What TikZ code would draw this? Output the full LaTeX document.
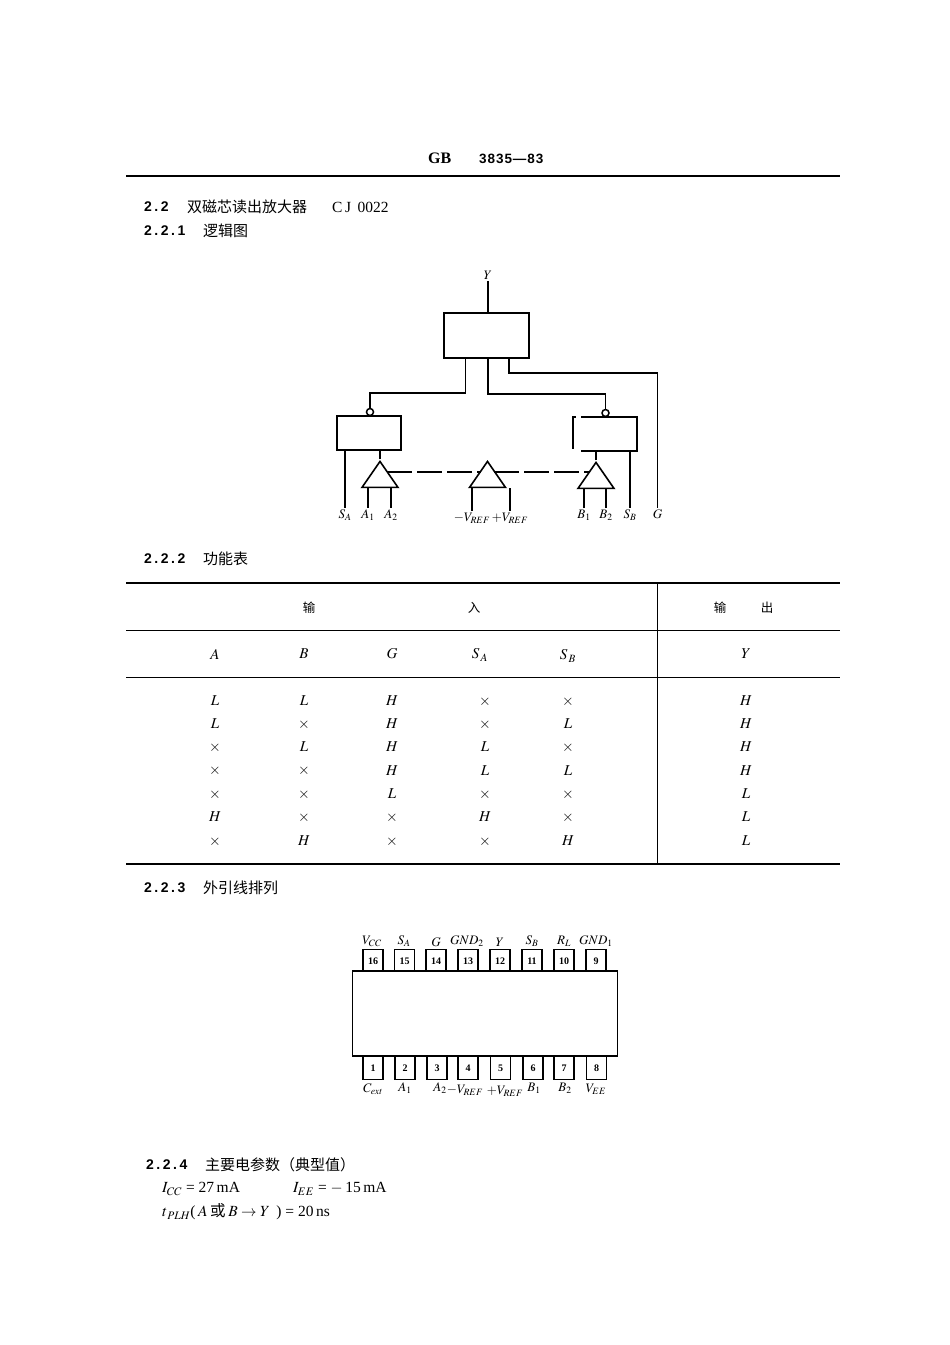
\documentclass[tikz,border=0pt]{standalone}
\usepackage{mathptmx}
\usepackage[no-math]{fontspec}
\setmainfont{Liberation Serif}
\newfontfamily\cjk{Noto Sans CJK SC}
\newfontfamily\secnum[LetterSpace=18]{Liberation Sans}
\newfontfamily\titlenum[LetterSpace=7]{Liberation Sans}
\usetikzlibrary{shapes.geometric}

\begin{document}
\begin{tikzpicture}[x=1pt, y=-1pt]
	\tikzstyle{every node} = [inner sep=0pt]
	\tikzstyle{box} = [draw, line width=1.9pt, minimum width=85pt, minimum height=45pt]
	\tikzstyle{subbox} = [draw, line width=1.6pt, minimum width=64pt, minimum height=34pt]
	\tikzstyle{bubble} = [draw, circle, line width=1.5pt, minimum size=7pt]
	\tikzstyle{tri} = [draw, isosceles triangle, isosceles triangle stretches, shape border rotate=90, line width=1.6pt, minimum width=36pt, minimum height=26pt]
	\tikzstyle{wire} = [line width=1.2pt]
	\tikzstyle{rule} = [line width=1.6pt]
	\tikzstyle{thin} = [line width=0.8pt]
	\tikzstyle{lbl} = [font=\fontsize{13}{13}\selectfont, inner sep=1.5pt]
	\tikzstyle{head} = [anchor=west, font=\fontsize{15}{15}\selectfont\cjk]
	\tikzstyle{num} = [anchor=west, font=\fontsize{14}{14}\selectfont\secnum\bfseries]
	\tikzstyle{cell} = [font=\fontsize{15}{15}\selectfont]
	\tikzstyle{zh} = [font=\fontsize{12.5}{12.5}\selectfont\cjk]
	\tikzstyle{pin} = [draw, line width=1.5pt, minimum width=20pt, minimum height=23pt, font=\fontsize{10}{10}\selectfont\bfseries]
	\tikzstyle{body} = [draw, fill=white, line width=1.6pt, minimum width=265pt, minimum height=85pt]
	\tikzstyle{txt} = [anchor=west, font=\fontsize{15.5}{15.5}\selectfont]
	\useasboundingbox (0,0) rectangle (950,1345);
	\fill [white] (0,0) rectangle (950,1345);

	% page head
	\node [anchor=west, font=\fontsize{16}{16}\selectfont\bfseries] (Title) at (428, 158) {GB};
	\node [anchor=west, font=\fontsize{13.5}{13.5}\selectfont\titlenum\bfseries] (TitleNo) at (479, 159) {3835—83};
	\coordinate (HeadL) at (126, 176);
	\coordinate (HeadR) at (840, 176);
	\draw [rule] (HeadL)--(HeadR);
	\node [num] (Sec22) at (144, 207) {2.2};
	\node [head] (Sec22Text) at (187, 207) {双磁芯读出放大器};
	\node [txt] (Sec22Code) at (332, 207) {C\,J\ \,0022};
	\node [num] (Sec221) at (144, 231) {2.2.1};
	\node [head] (Sec221Text) at (203, 231) {逻辑图};

	% logic diagram
	\node [box] (BoxTop) at (486.5, 335.5) {};
	\node [subbox] (BoxA) at (369, 433) {};
	\node [subbox] (BoxB) at (605, 434) {};
	\coordinate (GapA) at (576, 417);
	\coordinate (GapB) at (581, 417);
	\coordinate (GapC) at (571.5, 450.5);
	\coordinate (GapD) at (581, 450.5);
	\draw [white, line width=2.6pt] (GapA)--(GapB);
	\draw [white, line width=3.2pt] (GapC)--(GapD);
	\node [bubble] (BubA) at (370, 412) {};
	\node [bubble] (BubB) at (605.5, 413) {};
	\node [tri] (TriA) at (380, 478) {};
	\node [tri] (TriRef) at (487.5, 478) {};
	\node [tri] (TriB) at (596, 479) {};
	\node [lbl] (LblY) at (488, 275) {$Y$};
	\node [lbl] (LblSA) at (345, 515) {$S_A$};
	\node [lbl] (LblA1) at (368, 515) {$A_1$};
	\node [lbl] (LblA2) at (391, 515) {$A_2$};
	\node [lbl] (LblVm) at (472, 518) {$-V_{REF}$};
	\node [lbl] (LblVp) at (510, 518) {$+V_{REF}$};
	\node [lbl] (LblB1) at (584, 515) {$B_1$};
	\node [lbl] (LblB2) at (606, 515) {$B_2$};
	\node [lbl] (LblSB) at (630, 515) {$S_B$};
	\node [lbl] (LblG) at (657.5, 514) {$G$};
	\coordinate (TopL) at (465.5, 358);
	\coordinate (TopM) at (488, 358);
	\coordinate (TopR) at (509, 358);
	\coordinate (DashA) at (387, 472);
	\coordinate (DashB) at (481, 472);
	\coordinate (DashC) at (494, 472);
	\coordinate (DashD) at (589, 472);
	\draw [wire] (LblY)--(LblY |- BoxTop.north);
	\draw [wire] (TopL)--++(0,35)-|(BubA.north);
	\draw [wire] (TopM)--++(0,36)-|(BubB.north);
	\draw [wire] (TopR)--++(0,15)-|(LblG.north);
	\draw [wire] (LblSA)--(LblSA |- BoxA.south);
	\draw [wire] (LblSB)--(LblSB |- BoxB.south);
	\draw [wire] (TriA.apex)--(TriA.apex |- BoxA.south);
	\draw [wire] (TriB.apex)--(TriB.apex |- BoxB.south);
	\draw [wire] (LblA1)--(LblA1 |- TriA.left corner);
	\draw [wire] (LblA2)--(LblA2 |- TriA.left corner);
	\draw [wire] (LblVm)--(LblVm |- TriRef.left corner);
	\draw [wire] (LblVp)--(LblVp |- TriRef.left corner);
	\draw [wire] (LblB1)--(LblB1 |- TriB.left corner);
	\draw [wire] (LblB2)--(LblB2 |- TriB.left corner);
	\draw [line width=1.4pt, dash pattern=on 25pt off 5pt] (DashA)--(DashB);
	\draw [line width=1.4pt, dash pattern=on 25pt off 5pt] (DashC)--(DashD);

	% function table
	\node [num] (Sec222) at (144, 559) {2.2.2};
	\node [head] (Sec222Text) at (203, 559) {功能表};
	\coordinate (TabTL) at (126, 583);
	\coordinate (TabTR) at (840, 583);
	\coordinate (TabML) at (126, 630);
	\coordinate (TabMR) at (840, 630);
	\coordinate (TabNL) at (126, 677);
	\coordinate (TabNR) at (840, 677);
	\coordinate (TabBL) at (126, 864);
	\coordinate (TabBR) at (840, 864);
	\coordinate (TabVT) at (657, 583);
	\coordinate (TabVB) at (657, 864);
	\draw [rule] (TabTL)--(TabTR);
	\draw [thin] (TabML)--(TabMR);
	\draw [thin] (TabNL)--(TabNR);
	\draw [rule] (TabBL)--(TabBR);
	\draw [thin] (TabVT)--(TabVB);
	\node [zh] (InA) at (309, 608) {输};
	\node [zh] (InB) at (474, 608) {入};
	\node [zh] (OutA) at (720, 608) {输};
	\node [zh] (OutB) at (767, 608) {出};
	\node [cell] (ColA) at (215, 654) {$A$};
	\node [cell] (ColB) at (304, 654) {$B$};
	\node [cell] (ColG) at (392, 654) {$G$};
	\node [cell] (ColSA) at (480, 655) {$S_{\,A}$};
	\node [cell] (ColSB) at (568, 656) {$S_{\,B}$};
	\node [cell] (ColY) at (746, 654) {$Y$};
	\node [cell] (A1) at (215, 701) {$L$};
	\node [cell] (B1) at (304, 701) {$L$};
	\node [cell] (G1) at (392, 701) {$H$};
	\node [cell] (SA1) at (485, 702) {$\times$};
	\node [cell] (SB1) at (568, 702) {$\times$};
	\node [cell] (Y1) at (746, 701) {$H$};
	\node [cell] (A2) at (215, 724) {$L$};
	\node [cell] (B2) at (304, 725) {$\times$};
	\node [cell] (G2) at (392, 724) {$H$};
	\node [cell] (SA2) at (485, 725) {$\times$};
	\node [cell] (SB2) at (568, 724) {$L$};
	\node [cell] (Y2) at (746, 724) {$H$};
	\node [cell] (A3) at (215, 748) {$\times$};
	\node [cell] (B3) at (304, 747) {$L$};
	\node [cell] (G3) at (392, 747) {$H$};
	\node [cell] (SA3) at (485, 747) {$L$};
	\node [cell] (SB3) at (568, 748) {$\times$};
	\node [cell] (Y3) at (746, 747) {$H$};
	\node [cell] (A4) at (215, 771) {$\times$};
	\node [cell] (B4) at (304, 771) {$\times$};
	\node [cell] (G4) at (392, 771) {$H$};
	\node [cell] (SA4) at (485, 771) {$L$};
	\node [cell] (SB4) at (568, 771) {$L$};
	\node [cell] (Y4) at (746, 771) {$H$};
	\node [cell] (A5) at (215, 795) {$\times$};
	\node [cell] (B5) at (304, 795) {$\times$};
	\node [cell] (G5) at (392, 794) {$L$};
	\node [cell] (SA5) at (485, 795) {$\times$};
	\node [cell] (SB5) at (568, 795) {$\times$};
	\node [cell] (Y5) at (746, 794) {$L$};
	\node [cell] (A6) at (215, 817) {$H$};
	\node [cell] (B6) at (304, 818) {$\times$};
	\node [cell] (G6) at (392, 818) {$\times$};
	\node [cell] (SA6) at (485, 817) {$H$};
	\node [cell] (SB6) at (568, 818) {$\times$};
	\node [cell] (Y6) at (746, 817) {$L$};
	\node [cell] (A7) at (215, 842) {$\times$};
	\node [cell] (B7) at (304, 841) {$H$};
	\node [cell] (G7) at (392, 842) {$\times$};
	\node [cell] (SA7) at (485, 842) {$\times$};
	\node [cell] (SB7) at (568, 841) {$H$};
	\node [cell] (Y7) at (746, 841) {$L$};

	% pin layout
	\node [num] (Sec223) at (144, 888) {2.2.3};
	\node [head] (Sec223Text) at (203, 888) {外引线排列};
	\node [pin] (P16) at (373, 961) {16};
	\node [pin] (P15) at (404.5, 961) {15};
	\node [pin] (P14) at (436, 961) {14};
	\node [pin] (P13) at (468, 961) {13};
	\node [pin] (P12) at (500, 961) {12};
	\node [pin] (P11) at (532, 961) {11};
	\node [pin] (P10) at (564, 961) {10};
	\node [pin] (P9) at (596, 961) {9};
	\node [pin] (P1) at (373, 1068) {1};
	\node [pin] (P2) at (405, 1068) {2};
	\node [pin] (P3) at (437, 1068) {3};
	\node [pin] (P4) at (468, 1068) {4};
	\node [pin] (P5) at (500.5, 1068) {5};
	\node [pin] (P6) at (533, 1068) {6};
	\node [pin] (P7) at (564, 1068) {7};
	\node [pin] (P8) at (596.5, 1068) {8};
	\node [body] (Chip) at (485, 1013.5) {};
	\node [lbl] (PinVcc) at (372, 941) {$V_{CC}$};
	\node [lbl] (PinSA) at (404, 941) {$S_A$};
	\node [lbl] (PinG) at (436, 942) {$G$};
	\node [lbl] (PinGnd2) at (467, 941) {$GND_2$};
	\node [lbl] (PinY) at (500, 942) {$Y$};
	\node [lbl] (PinSB) at (532, 941) {$S_B$};
	\node [lbl] (PinRL) at (564, 941) {$R_L$};
	\node [lbl] (PinGnd1) at (596, 941) {$GND_1$};
	\node [lbl] (PinCext) at (373, 1089) {$C_{ext}$};
	\node [lbl] (PinA1) at (405, 1088) {$A_1$};
	\node [lbl] (PinA2) at (440, 1088) {$A_2$};
	\node [lbl] (PinVm) at (465, 1090) {$-V_{REF}$};
	\node [lbl] (PinVp) at (505, 1091) {$+V_{REF}$};
	\node [lbl] (PinB1) at (534, 1088) {$B_1$};
	\node [lbl] (PinB2) at (565, 1088) {$B_2$};
	\node [lbl] (PinVee) at (596, 1089) {$V_{EE}$};

	% parameters
	\node [num] (Sec224) at (146, 1165) {2.2.4};
	\node [head] (Sec224Text) at (205, 1165) {主要电参数（典型值）};
	\node [txt] (ParIcc) at (162, 1189) {$I_{CC}$ = 27\,mA};
	\node [txt] (ParIee) at (293, 1189) {$I_{EE}$ = $-$\,15\,mA};
	\node [txt] (ParT) at (162, 1212) {$t_{\,PLH}$(\,$A$\,{\cjk 或}\,$B\rightarrow Y$\ \,)\ = 20\,ns};
\end{tikzpicture}
\end{document}
